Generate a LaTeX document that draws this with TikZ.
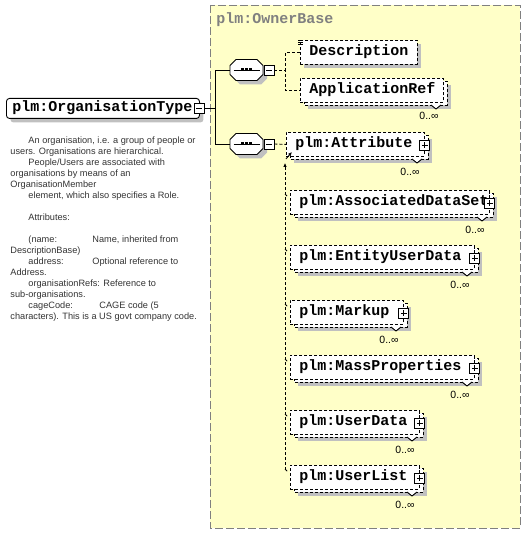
\documentclass[tikz,border=0pt]{standalone}
\usepackage{fontspec}
\setmainfont{Liberation Sans}
\setsansfont{Liberation Sans}
\setmonofont{Liberation Mono}
\usetikzlibrary{positioning,arrows.meta,shadows}

\definecolor{basefill}{RGB}{255,255,200}
\definecolor{shadegray}{RGB}{192,192,192}
\definecolor{frameline}{RGB}{128,128,128}
\newcommand{\xsdfont}{\fontsize{15}{15}\selectfont\ttfamily\bfseries}
\newcommand{\docfont}{\fontsize{9.2}{11}\selectfont\sffamily}
\newcommand{\multfont}{\fontsize{10.5}{11}\selectfont\sffamily}

\begin{document}
\begin{tikzpicture}[
  x=1pt, y=-1pt, line width=0.9pt,
  basebox/.style={fill=basefill, draw=frameline, dash pattern=on 8pt off 3pt},
  flatshadow/.style={drop shadow={shadow xshift=4pt, shadow yshift=-4pt, fill=shadegray, opacity=1}},
  mainbox/.style={draw, fill=white, rounded corners=3pt, anchor=north west, inner xsep=6pt, inner ysep=0pt,
    minimum height=20pt, text width=181pt, align=left, text height=10pt, text depth=3pt, font=\xsdfont, flatshadow},
  elem/.style={draw, dash pattern=on 3pt off 2pt, fill=white, anchor=north west, inner xsep=9pt, inner ysep=0pt,
    minimum height=24pt, align=left, text height=10pt, text depth=3pt, font=\xsdfont},
  backbox/.style={draw, dash pattern=on 3pt off 2pt, fill=white},
  shade/.style={fill=shadegray},
  seqbox/.style={minimum width=33pt, minimum height=21pt, inner sep=0pt},
  minusbox/.style={draw, fill=white, minimum size=10pt, inner sep=0pt,
    path picture={\draw ([xshift=2pt]path picture bounding box.west) -- ([xshift=-2pt]path picture bounding box.east);}},
  plusbox/.style={draw, fill=white, minimum size=10pt, inner sep=0pt,
    path picture={\draw ([xshift=2pt]path picture bounding box.west) -- ([xshift=-2pt]path picture bounding box.east);
      \draw ([yshift=-2pt]path picture bounding box.north) -- ([yshift=2pt]path picture bounding box.south);}},
  conn/.style={dash pattern=on 3pt off 2pt},
  mult/.style={font=\multfont, inner sep=0pt},
  tip/.style={-{Latex[length=4pt,width=3.5pt]}}
]
\useasboundingbox (0,0) rectangle (525,534);

% complex type base
\draw[basebox] (210,5) rectangle (520,528);
\node[anchor=west, font=\xsdfont, text=frameline, inner sep=0pt] (basettl) at (216,20) {plm:OwnerBase};

% the element itself
\node[mainbox] (org) at (6,98) {plm:OrganisationType};
\node[minusbox] (org-m) at (199,108) {};

\node[anchor=north west, inner sep=0pt, align=left, font=\docfont, text=black!80] (orgdoc) at (10,136) {%
\hspace*{18pt}An organisation, i.e. a group of people or\\
users. Organisations are hierarchical.\\
\hspace*{18pt}People/Users are associated with\\
organisations by means of an\\
OrganisationMember\\
\hspace*{18pt}element, which also specifies a Role.\\
\mbox{}\\
\hspace*{18pt}Attributes:\\
\mbox{}\\
\hspace*{18pt}\makebox[64pt][l]{(name:}Name, inherited from\\
DescriptionBase)\\
\hspace*{18pt}\makebox[64pt][l]{address:}Optional reference to\\
Address.\\
\hspace*{18pt}organisationRefs: Reference to\\
sub-organisations.\\
\hspace*{18pt}\makebox[71pt][l]{cageCode:}CAGE code (5\\
characters). This is a US govt company code.};

% sequences
\node[seqbox] (seq1) at (246.5,70) {};
\node[seqbox] (seq2) at (246.5,144) {};
\foreach \s in {seq1,seq2} {
  \begin{scope}[shift={(\s.center)}]
    \fill[shade] (-6.5,-6.5) -- (14.5,-6.5) -- (20.5,-0.5) -- (20.5,8.5) -- (14.5,14.5) -- (-6.5,14.5)
      -- (-12.5,8.5) -- (-12.5,-0.5) -- cycle;
    \filldraw[fill=white] (-10.5,-10.5) -- (10.5,-10.5) -- (16.5,-4.5) -- (16.5,4.5) -- (10.5,10.5) -- (-10.5,10.5)
      -- (-16.5,4.5) -- (-16.5,-4.5) -- cycle;
  \end{scope}
  \draw ([xshift=-13pt]\s.center) -- ([xshift=13pt]\s.center);
  \foreach \dx in {-4,0,4}
    \fill ([xshift=\dx pt]\s.center) +(-1.5,-1.5) rectangle +(1.5,1.5);
}
\node[minusbox] (seq1-m) at (269,70) {};
\node[minusbox] (seq2-m) at (269,144) {};

% first sequence
\node[elem, text width=99pt, flatshadow] (desc) at (300,40) {Description};
\foreach \k in {0,2,4}
  \draw[line width=0.8pt] ([xshift=-2pt,yshift=-\k pt]desc.north west) -- ([xshift=3pt,yshift=-\k pt]desc.north west);
\fill[shade] (308,85) rectangle ++(143,24);
\draw[backbox] (304,81) rectangle ++(143,24);
\node[elem, text width=125pt] (appref) at (300,78) {ApplicationRef};
\fill[white] (431,105) -- ++(5,4) -- ++(5,-4) -- cycle;
\draw (431,105) -- ++(5,4) -- ++(5,-4);
\node[mult] (appref-n) at (429,116) {0..∞};

% second sequence
\foreach \nm/\lbl/\xx/\yy/\ww in {attr/plm:Attribute/286/132/138,
    ads/plm:AssociatedDataSet/290/190/199, eud/plm:EntityUserData/290/245/184,
    mkp/plm:Markup/290/300/113, mass/plm:MassProperties/290/355/184,
    udat/plm:UserData/290/410/129, ulst/plm:UserList/290/465/129} {
  \pgfmathsetmacro{\tw}{\ww-18}
  \fill[shade] (\xx+8,\yy+7) rectangle ++(\ww,24);
  \draw[backbox] (\xx+4,\yy+3) rectangle ++(\ww,24);
  \node[elem, text width=\tw pt] (\nm) at (\xx,\yy) {\lbl};
  \node[plusbox] (\nm-p) at ([yshift=-1pt]\nm.east) {};
  \fill[white] (\xx+\ww-12,\yy+27) -- ++(5,4) -- ++(5,-4) -- cycle;
  \draw (\xx+\ww-12,\yy+27) -- ++(5,4) -- ++(5,-4);
  \node[mult] (\nm-n) at (\xx+\ww-14,\yy+40) {0..∞};
}

% connectors
\draw (org-m.east) -- ++(11,0) |- (seq1.west);
\draw (org-m.east) -- ++(11,0) |- (seq2.west);
\draw[conn] (seq1-m.east) -- ++(11,0) |- (desc.west);
\draw[conn] (seq1-m.east) -- ++(11,0) |- (appref.west);
\draw[conn] (seq2-m.east) -- (attr.west);
\foreach \nm in {ads,eud,mkp,mass,udat,ulst}
  \draw[conn] ([xshift=-5pt,yshift=-4pt]\nm.north west) -- ([xshift=-2pt,yshift=-7pt]\nm.north west);
\draw[conn, tip] ([xshift=-5pt,yshift=-5pt]ulst.north west) -- ([xshift=-1pt,yshift=-6pt]attr.south west);
\draw[tip] ([yshift=-2pt]attr.south west) -- ([xshift=6pt,yshift=5pt]attr.south west);
\end{tikzpicture}
\end{document}
